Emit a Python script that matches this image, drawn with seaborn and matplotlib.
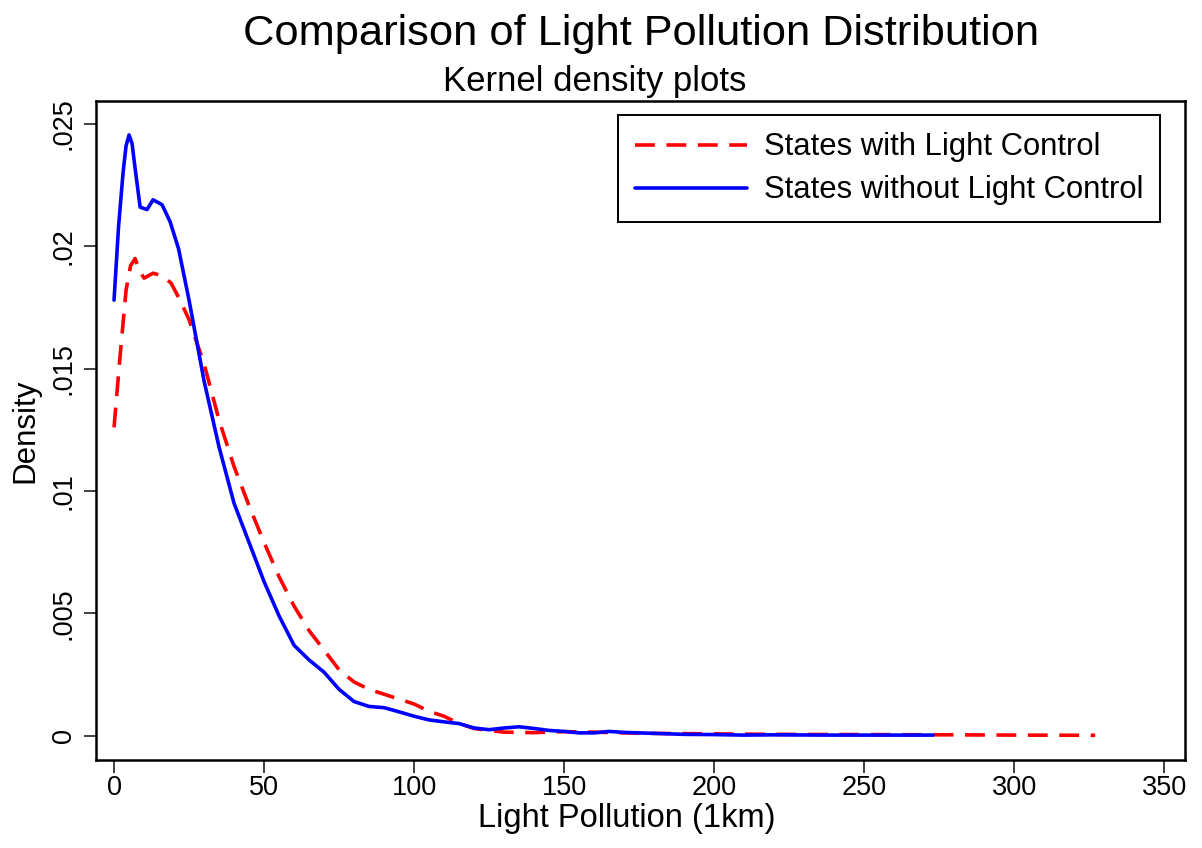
import numpy as np
import pandas as pd
import matplotlib
matplotlib.use("Agg")
import matplotlib.pyplot as plt
import seaborn as sns

# ─────────────────────────────────────────────
# Data (kernel density curves)
# ─────────────────────────────────────────────
with_x = [0, 2, 4, 5.5, 7, 8.5, 10, 13, 16, 19, 22, 25, 30, 35, 40, 45, 50, 55,
          60, 65, 70, 75, 80, 85, 90, 95, 100, 105, 110, 115, 120, 125, 130,
          140, 150, 160, 170, 180, 200, 220, 250, 280, 300, 327]
with_y = [0.0126, 0.0155, 0.0182, 0.0192, 0.0195, 0.0190, 0.0187, 0.0189,
          0.0188, 0.0185, 0.0178, 0.0170, 0.0152, 0.0129, 0.0110, 0.0094,
          0.0079, 0.0065, 0.0053, 0.0043, 0.0035, 0.0027, 0.0022, 0.0019,
          0.0017, 0.0015, 0.0013, 0.0010, 0.0008, 0.0005, 0.0003, 0.00022,
          0.00015, 0.00013, 0.00017, 0.00015, 0.00012, 0.0001, 0.00008,
          0.00006, 0.00005, 0.00004, 0.00003, 0.00002]

without_x = [0, 1.5, 3, 4, 5, 6, 7, 8.7, 11, 13, 16, 18.7, 21.5, 25, 30, 35,
             40, 45, 50, 55, 60, 65, 70, 75, 80, 85, 90, 95, 100, 105, 110,
             115, 120, 125, 130, 135, 140, 145, 150, 155, 160, 165, 170, 180,
             190, 200, 210, 220, 240, 260, 273]
without_y = [0.0178, 0.0208, 0.0230, 0.0241, 0.02455, 0.0242, 0.0232, 0.0216,
             0.0215, 0.0219, 0.0217, 0.0210, 0.0199, 0.0178, 0.0145, 0.0118,
             0.0095, 0.0079, 0.0063, 0.0049, 0.0037, 0.0031, 0.0026, 0.0019,
             0.0014, 0.0012, 0.00115, 0.00098, 0.0008, 0.00065, 0.00057,
             0.0005, 0.00032, 0.00025, 0.00032, 0.00037, 0.0003, 0.00022,
             0.00018, 0.00012, 0.00012, 0.00018, 0.00014, 0.0001, 0.00006,
             0.00005, 0.00003, 0.00004, 0.00003, 0.00003, 0.00003]

series_labels = ["States with Light Control", "States without Light Control"]
x_ticks = [0, 50, 100, 150, 200, 250, 300, 350]
y_ticks = [0, 0.005, 0.01, 0.015, 0.02, 0.025]
y_tick_labels = ["0", ".005", ".01", ".015", ".02", ".025"]

df_with = pd.DataFrame({"x": with_x, "y": with_y})
df_without = pd.DataFrame({"x": without_x, "y": without_y})

# ─────────────────────────────────────────────
# Plot
# ─────────────────────────────────────────────
sns.set_style("ticks")
plt.rcParams["font.family"] = ["Liberation Sans", "DejaVu Sans"]
plt.rcParams["text.color"] = "black"
plt.rcParams["axes.labelcolor"] = "black"
plt.rcParams["xtick.labelcolor"] = "black"
plt.rcParams["ytick.labelcolor"] = "black"

fig = plt.figure(figsize=(12.02, 8.48), dpi=100)
ax = fig.add_axes([0.0799, 0.104, 0.9061, 0.777])

sns.lineplot(data=df_with, x="x", y="y", ax=ax, color="#ff0000",
             linewidth=2.6, label=series_labels[0])
ax.lines[-1].set_dashes([5.5, 3.2])
sns.lineplot(data=df_without, x="x", y="y", ax=ax, color="#0000ff",
             linewidth=2.6, label=series_labels[1])

ax.set_xlim(-6, 357)
ax.set_ylim(-0.00098, 0.02594)
ax.set_xticks(x_ticks)
ax.set_yticks(y_ticks)
ax.set_yticklabels(y_tick_labels, rotation=90, va="center")
ax.tick_params(axis="both", labelsize=19.5, length=9, width=1.3,
               color="#333333")
ax.tick_params(axis="x", pad=2)
ax.tick_params(axis="y", pad=5)

for side in ax.spines.values():
    side.set_linewidth(1.8)
    side.set_color("black")

ax.set_xlabel("Light Pollution (1km)", fontsize=23.5)
ax.set_ylabel("Density", fontsize=22.5)
ax.xaxis.set_label_coords(0.487, -0.066)
ax.yaxis.set_label_coords(-0.051, 0.5)

fig.text(0.533, 0.960, "Comparison of Light Pollution Distribution",
         ha="center", va="center", fontsize=31.2)
fig.text(0.495, 0.904, "Kernel density plots", ha="center", va="center",
         fontsize=25)

leg = ax.legend(loc="upper right", bbox_to_anchor=(0.977, 0.978),
                fontsize=22.3, frameon=True, fancybox=False,
                handlelength=3.6, handletextpad=0.55, borderpad=0.55,
                labelspacing=0.42, borderaxespad=0)
leg.get_frame().set_edgecolor("black")
leg.get_frame().set_linewidth(1.4)
leg.get_frame().set_alpha(1)

fig.savefig("out.png", dpi=100)
